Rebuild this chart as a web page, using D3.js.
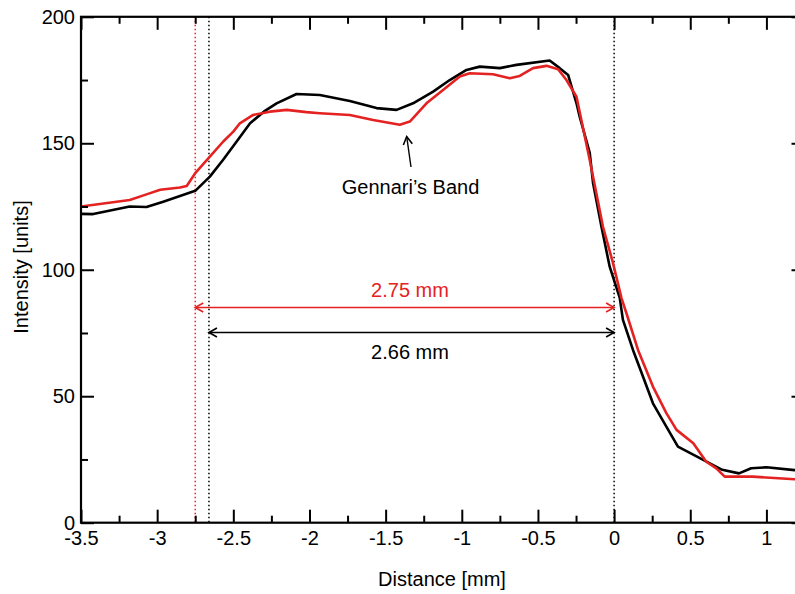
<!DOCTYPE html>
<html>
<head>
<meta charset="utf-8">
<script src="https://cdn.jsdelivr.net/npm/d3@7"></script>
<style>
  html, body { margin: 0; padding: 0; background: #fff; overflow: hidden; }
  text { font-family: "Liberation Sans", Arial, Helvetica, sans-serif; }
</style>
</head>
<body>
<svg id="chart" width="795" height="594"></svg>
<script>
// ---- data ----
const blackX = [-3.5, -3.42, -3.18, -3.07, -2.96, -2.75, -2.654, -2.568, -2.478, -2.39, -2.30, -2.216, -2.085, -1.932, -1.735, -1.56, -1.428, -1.32, -1.188, -1.079, -0.969, -0.882, -0.75, -0.641, -0.423, -0.357, -0.302, -0.247, -0.226, -0.16, -0.138, -0.083, -0.029, 0.037, 0.058, 0.124, 0.19, 0.255, 0.343, 0.419, 0.56, 0.71, 0.82, 0.90, 1.0, 1.185, 1.25];
const blackY = [122.1, 122.0, 125.0, 124.8, 126.9, 131.2, 136.8, 143.4, 150.7, 157.9, 162.5, 165.8, 169.5, 169.1, 166.7, 163.9, 163.2, 165.8, 170.4, 175.0, 179.0, 180.3, 179.7, 181.0, 182.7, 179.7, 177.0, 165.8, 160.5, 146.2, 134.2, 117.0, 101.2, 88.9, 80.2, 68.3, 57.7, 47.2, 38.0, 30.1, 25.6, 20.9, 19.5, 21.5, 21.9, 20.8, 20.6];
const redX = [-3.5, -3.18, -3.08, -2.98, -2.85, -2.806, -2.75, -2.654, -2.566, -2.50, -2.457, -2.37, -2.26, -2.15, -2.02, -1.932, -1.735, -1.582, -1.407, -1.341, -1.232, -1.123, -1.013, -0.948, -0.795, -0.685, -0.62, -0.532, -0.444, -0.368, -0.313, -0.247, -0.16, -0.073, -0.007, 0.048, 0.081, 0.157, 0.255, 0.343, 0.41, 0.52, 0.605, 0.671, 0.726, 0.911, 1.185, 1.25];
const redY = [125.0, 127.6, 129.6, 131.6, 132.5, 133.1, 138.2, 144.7, 150.7, 154.6, 157.9, 161.2, 162.5, 163.2, 162.3, 161.9, 161.2, 159.2, 157.3, 158.6, 165.8, 171.1, 176.4, 177.7, 177.3, 175.7, 176.6, 179.7, 180.6, 179.3, 175.0, 168.4, 143.4, 117.0, 102.6, 88.9, 82.8, 68.3, 53.8, 43.3, 36.7, 31.4, 24.1, 21.5, 18.2, 18.2, 17.2, 17.0];
const xTicks = [-3.5, -3, -2.5, -2, -1.5, -1, -0.5, 0, 0.5, 1];
const xTickLabels = ["-3.5", "-3", "-2.5", "-2", "-1.5", "-1", "-0.5", "0", "0.5", "1"];
const xMinor = [-3.25, -2.75, -2.25, -1.75, -1.25, -0.75, -0.25, 0.25, 0.75];
const yTicks = [0, 50, 100, 150, 200];
const yTickLabels = ["0", "50", "100", "150", "200"];
const yMinor = [25, 75, 125, 175];
const redEdge = -2.75, blackEdge = -2.66, boundary = 0;
const redArrowY = 85.1, blackArrowY = 75.2;
const redLabel = "2.75 mm", blackLabel = "2.66 mm";
const bandLabel = "Gennari\u2019s Band";

// ---- layout ----
const svg = d3.select("#chart");
const L = 81, R = 804.5, T = 16.8, B = 522.7;
const RED = "#e52222";
const x = d3.scaleLinear().domain([-3.5, 1.25]).range([L, R]);
const y = d3.scaleLinear().domain([0, 200]).range([B, T]);

const defs = svg.append("defs");
function marker(id, color) {
  defs.append("marker").attr("id", id).attr("viewBox", "-10 -6 12 12")
    .attr("refX", 0).attr("refY", 0).attr("markerWidth", 12).attr("markerHeight", 12)
    .attr("markerUnits", "userSpaceOnUse").attr("orient", "auto-start-reverse")
    .append("path").attr("d", "M-8,-4.5 L0,0 L-8,4.5").attr("fill", "none")
    .attr("stroke", color).attr("stroke-width", 1.6);
}
marker("ah-red", RED);
marker("ah-black", "#000");

defs.append("clipPath").attr("id", "plotclip").append("rect")
  .attr("x", L).attr("y", T).attr("width", R - L).attr("height", B - T);

// dotted vertical lines
[[redEdge, RED], [blackEdge, "#000"], [boundary, "#000"]].forEach(([v, c]) => {
  svg.append("line").attr("x1", x(v)).attr("x2", x(v)).attr("y1", T).attr("y2", B)
    .attr("stroke", c).attr("stroke-width", 1.5).attr("stroke-dasharray", "1.5,2.5");
});

// curves
const line = d3.line().x(d => x(d[0])).y(d => y(d[1]));
const g = svg.append("g").attr("clip-path", "url(#plotclip)");
g.append("path").datum(blackX.map((v, i) => [v, blackY[i]]))
  .attr("d", line).attr("fill", "none").attr("stroke", "#000").attr("stroke-width", 2.6)
  .attr("stroke-linejoin", "round");
g.append("path").datum(redX.map((v, i) => [v, redY[i]]))
  .attr("d", line).attr("fill", "none").attr("stroke", RED).attr("stroke-width", 2.6)
  .attr("stroke-linejoin", "round");

// dimension arrows
svg.append("line").attr("x1", x(redEdge)).attr("x2", x(boundary))
  .attr("y1", y(redArrowY)).attr("y2", y(redArrowY))
  .attr("stroke", RED).attr("stroke-width", 1.6)
  .attr("marker-start", "url(#ah-red)").attr("marker-end", "url(#ah-red)");
svg.append("line").attr("x1", x(blackEdge)).attr("x2", x(boundary))
  .attr("y1", y(blackArrowY)).attr("y2", y(blackArrowY))
  .attr("stroke", "#000").attr("stroke-width", 1.6)
  .attr("marker-start", "url(#ah-black)").attr("marker-end", "url(#ah-black)");
svg.append("text").attr("x", 410).attr("y", 296.5).attr("text-anchor", "middle")
  .attr("font-size", 20).attr("fill", RED).text(redLabel);
svg.append("text").attr("x", 410).attr("y", 359).attr("text-anchor", "middle")
  .attr("font-size", 20).attr("fill", "#000").text(blackLabel);

// Gennari's band annotation
svg.append("line").attr("x1", 411).attr("y1", 167).attr("x2", 406.7).attr("y2", 136.5)
  .attr("stroke", "#000").attr("stroke-width", 1.4).attr("marker-end", "url(#ah-black)");
svg.append("text").attr("x", 410.5).attr("y", 193.5).attr("text-anchor", "middle")
  .attr("font-size", 20).attr("fill", "#000").text(bandLabel);

// axes
function styleAxis(sel) {
  sel.select(".domain").remove();
  sel.selectAll(".tick line").attr("stroke", "#000").attr("stroke-width", 2);
  sel.selectAll("text").attr("font-size", 20).attr("fill", "#000")
    .attr("font-family", "Liberation Sans, Arial, sans-serif");
}
svg.append("g").attr("transform", `translate(0,${B})`)
  .call(d3.axisBottom(x).tickValues(xTicks).tickSize(-13).tickPadding(8)
    .tickFormat((d, i) => xTickLabels[i]))
  .call(styleAxis);
svg.append("g").attr("transform", `translate(0,${B})`)
  .call(d3.axisBottom(x).tickValues(xMinor).tickSize(-7).tickFormat(""))
  .call(styleAxis);
svg.append("g").attr("transform", `translate(0,${T})`)
  .call(d3.axisTop(x).tickValues(xTicks).tickSize(-13).tickFormat(""))
  .call(styleAxis);
svg.append("g").attr("transform", `translate(0,${T})`)
  .call(d3.axisTop(x).tickValues(xMinor).tickSize(-7).tickFormat(""))
  .call(styleAxis);
svg.append("g").attr("transform", `translate(${L},0)`)
  .call(d3.axisLeft(y).tickValues(yTicks).tickSize(-13).tickPadding(6)
    .tickFormat((d, i) => yTickLabels[i]))
  .call(styleAxis);
svg.append("g").attr("transform", `translate(${L},0)`)
  .call(d3.axisLeft(y).tickValues(yMinor).tickSize(-7).tickFormat(""))
  .call(styleAxis);
svg.append("g").attr("transform", `translate(${R},0)`)
  .call(d3.axisRight(y).tickValues(yTicks).tickSize(-13).tickFormat(""))
  .call(styleAxis);
svg.append("g").attr("transform", `translate(${R},0)`)
  .call(d3.axisRight(y).tickValues(yMinor).tickSize(-7).tickFormat(""))
  .call(styleAxis);

// frame
svg.append("rect").attr("x", L).attr("y", T).attr("width", R - L).attr("height", B - T)
  .attr("fill", "none").attr("stroke", "#000").attr("stroke-width", 2.2);

// axis titles
svg.append("text").attr("x", 442).attr("y", 586).attr("text-anchor", "middle")
  .attr("font-size", 20).text("Distance [mm]");
svg.append("text").attr("transform", "translate(28,267) rotate(-90)")
  .attr("text-anchor", "middle").attr("font-size", 20).text("Intensity [units]");
</script>
</body>
</html>
